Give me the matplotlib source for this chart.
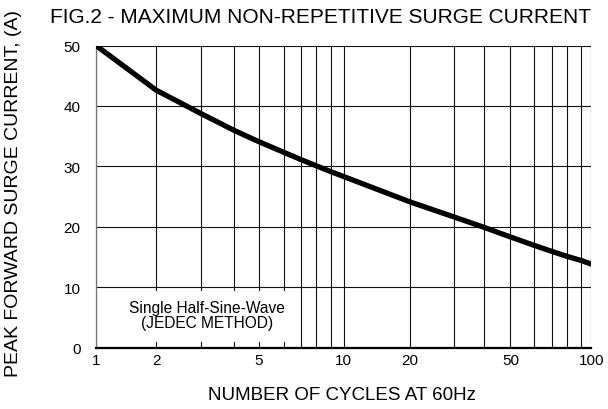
import numpy as np
import matplotlib
matplotlib.use('Agg')
import matplotlib.pyplot as plt
from matplotlib.patches import Rectangle

plt.rcParams['font.family'] = ['Liberation Sans', 'DejaVu Sans']

cycles = [1, 2, 3, 4, 5, 6, 7, 8, 9, 10, 20, 30, 40, 50, 60, 70, 80, 90, 100]
current = [50, 42.6, 38.7, 36.0, 34.1, 32.3, 31.1, 30.1, 29.1, 28.3,
           24.1, 21.6, 19.9, 18.3, 16.9, 15.9, 15.1, 14.4, 13.8]

xtick_vals = [1, 2, 5, 10, 20, 50, 100]
ytick_vals = [0, 10, 20, 30, 40, 50]
grid_vals = [1, 2, 3, 4, 5, 6, 7, 8, 9, 10, 20, 30, 40, 50, 60, 70, 80, 90, 100]

# the printed log paper is not a true log scale: where each grid line sits, in decades
grid_pos = [0, .243, .425, .555, .656, .759, .828, .888, .949, 1,
            1.268, 1.446, 1.566, 1.673, 1.769, 1.841, 1.900, 1.959, 2]
grid_log = np.log10(grid_vals)


def fwd(x):
    x = np.clip(np.asarray(x, dtype=float), 1e-3, None)
    return np.interp(np.log10(x), grid_log, grid_pos, left=-1, right=3)


def inv(p):
    return 10 ** np.interp(p, grid_pos, grid_log)


fig = plt.figure(figsize=(6.08, 4.10), dpi=100)
ax = fig.add_axes([96 / 608, 1 - 348.5 / 410, 495.5 / 608, 302 / 410])
ax.set_xscale('function', functions=(fwd, inv))
ax.set_xlim(1, 100)
ax.set_ylim(0, 50)

for g in grid_vals:
    ax.axvline(g, color='#111111', lw=0.8, zorder=1)
for v in ytick_vals[1:]:
    ax.axhline(v, color='#111111', lw=0.8, zorder=1)

# white label box over the lower-left grid
ax.add_patch(Rectangle((1.02, 0.9), 5.55, 8.5, facecolor='white', edgecolor='none', zorder=2))
ax.text(3.15, 5.3, 'Single Half-Sine-Wave\n(JEDEC METHOD)', ha='center', va='center',
        fontsize=11.2, linespacing=1.0, zorder=3)

ax.plot(cycles, current, color='black', lw=3.8, solid_capstyle='round', zorder=4)

ax.set_xticks(xtick_vals)
ax.set_xticklabels([str(v) for v in xtick_vals])
ax.set_xticks([], minor=True)
ax.set_yticks(ytick_vals)
ax.tick_params(length=0, labelsize=11)
ax.tick_params(axis='x', pad=4)
ax.tick_params(axis='y', pad=11)

for s in ['top', 'right']:
    ax.spines[s].set_visible(False)
ax.spines['left'].set_color('#777777')
ax.spines['left'].set_linewidth(0.9)
ax.spines['bottom'].set_linewidth(1.6)
ax.spines['bottom'].set_zorder(5)

fig.text(50 / 608, 0.958, 'FIG.2 - MAXIMUM NON-REPETITIVE SURGE CURRENT', ha='left', va='center',
         fontsize=15)
fig.text(0.022, 0.527, 'PEAK FORWARD SURGE CURRENT, (A)', rotation=90, ha='center', va='center',
         fontsize=14)
fig.text(0.563, 0.035, 'NUMBER OF CYCLES AT 60Hz', ha='center', va='center', fontsize=13.5)

fig.savefig('out.png', dpi=100)
